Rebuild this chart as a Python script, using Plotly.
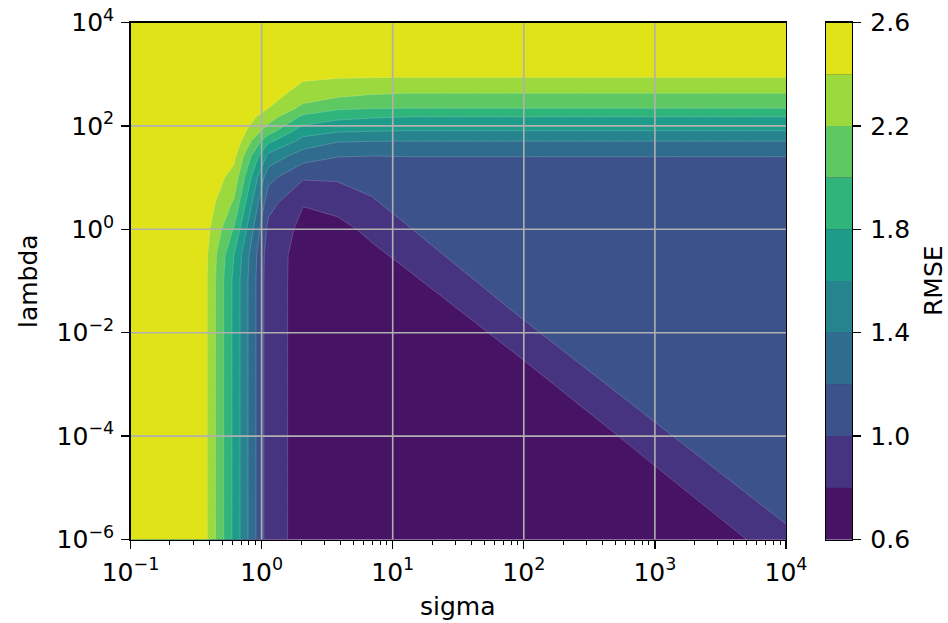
import plotly.graph_objects as go

# ---- data ----
sigma = [0.1, 0.1833, 0.336, 0.6158, 1.1288, 2.0691, 3.7927, 6.9519, 12.743, 23.357,
         42.813, 78.476, 143.85, 263.67, 483.29, 885.87, 1623.8, 2976.4, 5455.6, 10000.0]
lam = [1e-6, 3.16e-6, 1e-5, 3.16e-5, 1e-4, 3.16e-4, 1e-3, 3.16e-3, 1e-2, 3.16e-2,
       0.1, 0.316, 1.0, 3.16, 10.0, 26.0, 51.0, 81.0, 150.0, 220.0, 430.0, 870.0, 3160.0, 10000.0]
rmse = [
    [2.59, 2.59, 2.59, 1.75, 0.885, 0.732, 0.69, 0.68, 0.68, 0.68, 0.68, 0.68, 0.68, 0.68, 0.68, 0.68, 0.68, 0.695, 0.817, 0.934],
    [2.59, 2.59, 2.59, 1.75, 0.885, 0.732, 0.69, 0.68, 0.68, 0.68, 0.68, 0.68, 0.68, 0.68, 0.68, 0.68, 0.684, 0.809, 0.929, 1.044],
    [2.59, 2.59, 2.59, 1.75, 0.885, 0.732, 0.69, 0.68, 0.68, 0.68, 0.68, 0.68, 0.68, 0.68, 0.68, 0.68, 0.801, 0.923, 1.041, 1.12],
    [2.59, 2.59, 2.59, 1.75, 0.885, 0.732, 0.69, 0.68, 0.68, 0.68, 0.68, 0.68, 0.68, 0.68, 0.68, 0.792, 0.917, 1.037, 1.12, 1.12],
    [2.59, 2.59, 2.59, 1.75, 0.885, 0.732, 0.69, 0.68, 0.68, 0.68, 0.68, 0.68, 0.68, 0.68, 0.782, 0.911, 1.034, 1.12, 1.12, 1.12],
    [2.59, 2.59, 2.59, 1.75, 0.885, 0.732, 0.69, 0.68, 0.68, 0.68, 0.68, 0.68, 0.68, 0.773, 0.904, 1.030, 1.12, 1.12, 1.12, 1.12],
    [2.59, 2.59, 2.59, 1.75, 0.885, 0.732, 0.69, 0.68, 0.68, 0.68, 0.68, 0.68, 0.763, 0.898, 1.026, 1.12, 1.12, 1.12, 1.12, 1.12],
    [2.59, 2.59, 2.59, 1.75, 0.885, 0.732, 0.69, 0.68, 0.68, 0.68, 0.68, 0.755, 0.891, 1.022, 1.12, 1.12, 1.12, 1.12, 1.12, 1.12],
    [2.59, 2.59, 2.59, 1.75, 0.885, 0.732, 0.69, 0.68, 0.68, 0.68, 0.752, 0.883, 1.018, 1.12, 1.12, 1.12, 1.12, 1.12, 1.12, 1.12],
    [2.59, 2.59, 2.59, 1.75, 0.885, 0.732, 0.69, 0.68, 0.68, 0.749, 0.876, 1.011, 1.12, 1.12, 1.12, 1.12, 1.12, 1.12, 1.12, 1.12],
    [2.59, 2.59, 2.59, 1.75, 0.885, 0.732, 0.69, 0.68, 0.746, 0.869, 0.999, 1.12, 1.12, 1.12, 1.12, 1.12, 1.12, 1.12, 1.12, 1.12],
    [2.59, 2.59, 2.59, 1.80, 0.89, 0.732, 0.69, 0.746, 0.862, 0.989, 1.12, 1.12, 1.12, 1.12, 1.12, 1.12, 1.12, 1.12, 1.12, 1.12],
    [2.59, 2.59, 2.59, 1.98, 0.94, 0.75, 0.728, 0.858, 0.978, 1.108, 1.12, 1.12, 1.12, 1.12, 1.12, 1.12, 1.12, 1.12, 1.12, 1.12],
    [2.59, 2.59, 2.59, 2.17, 1.07, 0.807, 0.876, 0.970, 1.094, 1.12, 1.12, 1.12, 1.12, 1.12, 1.12, 1.12, 1.12, 1.12, 1.12, 1.12],
    [2.59, 2.59, 2.59, 2.33, 1.26, 1.02, 1.023, 1.083, 1.13, 1.13, 1.13, 1.13, 1.13, 1.13, 1.13, 1.13, 1.13, 1.13, 1.13, 1.13],
    [2.59, 2.59, 2.59, 2.45, 1.54, 1.291, 1.208, 1.199, 1.202, 1.202, 1.202, 1.202, 1.202, 1.202, 1.202, 1.202, 1.202, 1.202, 1.202, 1.202],
    [2.59, 2.59, 2.59, 2.55, 1.85, 1.533, 1.416, 1.404, 1.402, 1.402, 1.402, 1.402, 1.402, 1.402, 1.402, 1.402, 1.402, 1.402, 1.402, 1.402],
    [2.59, 2.59, 2.59, 2.57, 2.10, 1.695, 1.631, 1.613, 1.602, 1.602, 1.602, 1.602, 1.602, 1.602, 1.602, 1.602, 1.602, 1.602, 1.602, 1.602],
    [2.59, 2.59, 2.59, 2.58, 2.30, 1.957, 1.853, 1.819, 1.802, 1.802, 1.802, 1.802, 1.802, 1.802, 1.802, 1.802, 1.802, 1.802, 1.802, 1.802],
    [2.59, 2.59, 2.59, 2.59, 2.40, 2.15, 2.035, 2.009, 2.002, 2.002, 2.002, 2.002, 2.002, 2.002, 2.002, 2.002, 2.002, 2.002, 2.002, 2.002],
    [2.59, 2.59, 2.59, 2.59, 2.50, 2.313, 2.265, 2.22, 2.202, 2.202, 2.202, 2.202, 2.202, 2.202, 2.202, 2.202, 2.202, 2.202, 2.202, 2.202],
    [2.59, 2.59, 2.59, 2.59, 2.55, 2.43, 2.41, 2.405, 2.402, 2.402, 2.402, 2.402, 2.402, 2.402, 2.402, 2.402, 2.402, 2.402, 2.402, 2.402],
    [2.59, 2.59, 2.59, 2.59, 2.58, 2.52, 2.5, 2.5, 2.5, 2.5, 2.5, 2.5, 2.5, 2.5, 2.5, 2.5, 2.5, 2.5, 2.5, 2.5],
    [2.59, 2.59, 2.59, 2.59, 2.59, 2.56, 2.55, 2.55, 2.55, 2.55, 2.55, 2.55, 2.55, 2.55, 2.55, 2.55, 2.55, 2.55, 2.55, 2.55],
]

levels = [0.6, 0.8, 1.0, 1.2, 1.4, 1.6, 1.8, 2.0, 2.2, 2.4, 2.6]
band_colors = ["#471365", "#463480", "#3b528b", "#2f6c8e", "#25848e",
               "#1e9c89", "#2fb47c", "#5ec962", "#9bd93c", "#dfe318"]

x_ticks = [0.1, 1, 10, 100, 1000, 10000]
x_ticktext = ["10<sup>−1</sup>", "10<sup>0</sup>", "10<sup>1</sup>", "10<sup>2</sup>", "10<sup>3</sup>", "10<sup>4</sup>"]
x_minor = [m * 10 ** e for e in range(-1, 4) for m in range(2, 10)]
y_ticks = [1e-6, 1e-4, 1e-2, 1, 1e2, 1e4]
y_ticktext = ["10<sup>−6</sup>", "10<sup>−4</sup>", "10<sup>−2</sup>", "10<sup>0</sup>", "10<sup>2</sup>", "10<sup>4</sup>"]
cbar_ticks = [0.6, 1.0, 1.4, 1.8, 2.2, 2.6]
cbar_ticktext = ["0.6", "1.0", "1.4", "1.8", "2.2", "2.6"]

# full-window figure (page body margin removed in post_script below)
W, H = 948, 623
def px(x):
    return x / W
def py(y):
    return 1 - y / H

FONT = "DejaVu Sans, Arial, sans-serif"
FS = 25

fig = go.Figure()

# filled contour bands: a constraint "z < lo" shades the region z >= lo
for lo, col in zip(levels[:-1], band_colors):
    fig.add_trace(go.Contour(
        x=sigma, y=lam, z=rmse,
        contours=dict(type="constraint", operation="<", value=lo),
        fillcolor=col,
        line=dict(width=0.6, color="rgba(255,255,255,0.30)", smoothing=0),
        showscale=False, hoverinfo="skip", showlegend=False,
        xaxis="x", yaxis="y",
    ))

# grid lines drawn above the fills, at major tick positions
grid_style = dict(color="#b0b0b0", width=1.6)
for xv in x_ticks[1:-1]:
    fig.add_trace(go.Scatter(x=[xv, xv], y=[y_ticks[0], y_ticks[-1]], mode="lines",
                             line=grid_style, hoverinfo="skip", showlegend=False,
                             xaxis="x", yaxis="y"))
for yv in y_ticks[1:-1]:
    fig.add_trace(go.Scatter(x=[x_ticks[0], x_ticks[-1]], y=[yv, yv], mode="lines",
                             line=grid_style, hoverinfo="skip", showlegend=False,
                             xaxis="x", yaxis="y"))

# colorbar as stacked bands
fig.add_trace(go.Bar(
    x=[0] * (len(levels) - 1),
    y=[hi - lo for lo, hi in zip(levels[:-1], levels[1:])],
    base=levels[:-1],
    width=1.0,
    marker=dict(color=band_colors, line=dict(width=0)),
    hoverinfo="skip", showlegend=False,
    xaxis="x2", yaxis="y2",
))

x0, x1 = px(130.5), px(786)
y0, y1 = py(539.5), py(22.5)
cx0, cx1 = px(826), px(852)

axis_common = dict(showline=True, mirror=True, linecolor="black", linewidth=1.3,
                   ticks="outside", tickcolor="black", tickwidth=1.3, ticklen=8,
                   showgrid=False, zeroline=False, ticklabeloverflow="allow",
                   tickfont=dict(family=FONT, size=FS, color="black"))

fig.update_layout(
    width=W, height=H,
    margin=dict(l=0, r=0, t=0, b=0),
    paper_bgcolor="white",
    plot_bgcolor=band_colors[0],
    font=dict(family=FONT, size=FS, color="black"),
    showlegend=False,
    hovermode=False,
    xaxis=dict(type="log", range=[-1, 4], domain=[x0, x1], anchor="y",
               tickmode="array", tickvals=x_ticks, ticktext=x_ticktext,
               minor=dict(ticks="outside", tickmode="array", tickvals=x_minor,
                          ticklen=4.5, tickwidth=1.0, tickcolor="black", showgrid=False),
               ticklabelstandoff=2,
               automargin=False, **axis_common),
    yaxis=dict(type="log", range=[-6, 4], domain=[y0, y1], anchor="x",
               tickmode="array", tickvals=y_ticks, ticktext=y_ticktext,
               ticklabelstandoff=2,
               automargin=False, **axis_common),
    xaxis2=dict(domain=[cx0, cx1], anchor="y2", range=[-0.5, 0.5],
                showticklabels=False, ticks="", showline=True, mirror=True,
                linecolor="black", linewidth=1.3, showgrid=False, zeroline=False,
                fixedrange=True, automargin=False),
    yaxis2=dict(domain=[y0, y1], anchor="x2", side="right", range=[0.6, 2.6],
                tickmode="array", tickvals=cbar_ticks, ticktext=cbar_ticktext,
                ticklabelstandoff=4,
                automargin=False, **axis_common),
    annotations=[
        dict(text="sigma", x=(x0 + x1) / 2, y=py(606), xref="paper", yref="paper",
             showarrow=False, xanchor="center", yanchor="middle",
             font=dict(family=FONT, size=FS, color="black")),
        dict(text="lambda", x=px(28), y=(y0 + y1) / 2, xref="paper", yref="paper",
             showarrow=False, xanchor="center", yanchor="middle", textangle=-90,
             font=dict(family=FONT, size=FS, color="black")),
        dict(text="RMSE", x=px(933), y=(y0 + y1) / 2, xref="paper", yref="paper",
             showarrow=False, xanchor="center", yanchor="middle", textangle=-90,
             font=dict(family=FONT, size=FS, color="black")),
    ],
)

fig.write_html(
    "out.html",
    config={"displayModeBar": False, "staticPlot": True},
    post_script="document.body.style.margin='0px';document.body.style.padding='0px';"
                "document.body.style.overflow='hidden';",
)
